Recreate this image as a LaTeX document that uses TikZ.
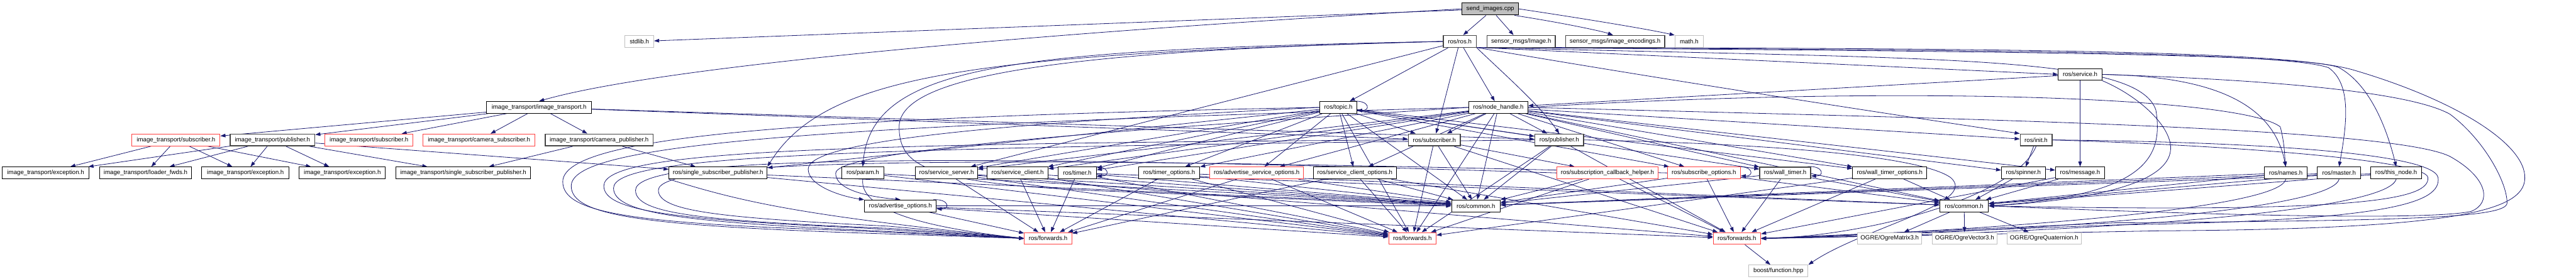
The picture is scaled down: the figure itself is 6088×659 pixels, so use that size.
\documentclass[tikz,border=0pt]{standalone}
\usepackage{fontspec}
\setmainfont{Liberation Sans}
\usetikzlibrary{arrows.meta}
\definecolor{edgec}{RGB}{25,25,112}
\definecolor{redb}{RGB}{255,64,64}
\definecolor{dkb}{RGB}{68,68,68}
\definecolor{lgb}{RGB}{191,191,191}
\definecolor{sendf}{RGB}{191,191,191}
\pgfdeclarelayer{bg}
\pgfsetlayers{bg,main}
\tikzset{
 fnode/.style={rectangle, draw, fill=white, minimum height=28pt, inner sep=0pt, text=black,
   font=\fontsize{14.4}{16}\selectfont, line width=1.4pt},
 bk/.style={fnode, draw=black},
 dk/.style={fnode, draw=dkb, line width=2.2pt},
 rd/.style={fnode, draw=redb, line width=1.6pt},
 lg/.style={fnode, draw=lgb, line width=1.6pt},
 sendbox/.style={fnode, draw=black, fill=sendf, line width=1.8pt},
 edge/.style={draw=edgec, line width=1.2pt, -{Triangle[length=12pt,width=8.5pt]}},
}
\newcommand\selfloop[1]{\draw[edge] ([xshift=-8pt]#1.north east) .. controls ([xshift=30pt,yshift=2pt]#1.north east) and ([xshift=32pt,yshift=-8pt]#1.east) .. ([yshift=-7pt]#1.east);}
\begin{document}
\begin{tikzpicture}[x=1pt,y=1pt]
\useasboundingbox (0,0) rectangle (6088,-659);
% level 0-2
\node[sendbox, minimum width=133pt, minimum height=29pt] (send) at (3522,-21) {send\_images.cpp};
\node[lg, minimum width=68pt] (stdlib) at (1511,-98) {stdlib.h};
\node[dk, minimum width=78pt] (rosh) at (3450,-98) {ros/ros.h};
\node[dk, minimum width=162pt] (img) at (3595,-98) {sensor\_msgs/Image.h};
\node[dk, minimum width=234pt] (enc) at (3817,-98) {sensor\_msgs/image\_encodings.h};
\node[lg, minimum width=67pt] (math) at (3992,-98) {math.h};
\node[bk, minimum width=103pt] (service) at (4916,-176) {ros/service.h};
% level 3
\node[bk, minimum width=249pt] (itit) at (1274,-254) {image\_transport/image\_transport.h};
\node[bk, minimum width=87pt] (topic) at (3163,-254) {ros/topic.h};
\node[bk, minimum width=140pt] (nh) at (3541,-254) {ros/node\_handle.h};
% level 4
\node[rd, minimum width=208pt] (itsub1) at (416,-331) {image\_transport/subscriber.h};
\node[dk, minimum width=200pt] (itpub) at (644,-331) {image\_transport/publisher.h};
\node[rd, minimum width=208pt] (itsub2) at (872,-331) {image\_transport/subscriber.h};
\node[rd, minimum width=264pt] (itcamsub) at (1132,-331) {image\_transport/camera\_subscriber.h};
\node[dk, minimum width=255pt] (itcampub) at (1416,-331) {image\_transport/camera\_publisher.h};
\node[dk, minimum width=123pt] (rossub) at (3390,-331) {ros/subscriber.h};
\node[dk, minimum width=115pt] (rospub) at (3685,-331) {ros/publisher.h};
\node[dk, minimum width=75pt] (init) at (4812,-331) {ros/init.h};
% level 5
\node[bk, minimum width=206pt] (exc1) at (108,-409) {image\_transport/exception.h};
\node[bk, minimum width=218pt] (loader) at (344,-409) {image\_transport/loader\_fwds.h};
\node[bk, minimum width=206pt] (exc2) at (580,-409) {image\_transport/exception.h};
\node[bk, minimum width=204pt] (exc3) at (809,-409) {image\_transport/exception.h};
\node[bk, minimum width=318pt] (itssp) at (1095,-409) {image\_transport/single\_subscriber\_publisher.h};
\node[bk, minimum width=232pt] (rosssp) at (1697,-409) {ros/single\_subscriber\_publisher.h};
\node[bk, minimum width=100pt] (param) at (2039,-409) {ros/param.h};
\node[bk, minimum width=147pt] (srvserver) at (2237,-409) {ros/service\_server.h};
\node[bk, minimum width=144pt] (srvclient) at (2405,-409) {ros/service\_client.h};
\node[bk, minimum width=91pt] (timer) at (2546,-409) {ros/timer.h};
\node[bk, minimum width=145pt] (timeropts) at (2763,-409) {ros/timer\_options.h};
\node[rd, minimum width=222pt] (advsrvopts) at (2970,-409) {ros/advertise\_service\_options.h};
\node[bk, minimum width=197pt] (srvclientopts) at (3202,-409) {ros/service\_client\_options.h};
\node[rd, minimum width=238pt] (subcb) at (3799,-409) {ros/subscription\_callback\_helper.h};
\node[rd, minimum width=172pt] (subopts) at (4027,-409) {ros/subscribe\_options.h};
\node[dk, minimum width=120pt] (walltimer) at (4219,-409) {ros/wall\_timer.h};
\node[bk, minimum width=175pt] (walltimeropts) at (4466,-409) {ros/wall\_timer\_options.h};
\node[bk, minimum width=104pt] (spinner) at (4782,-409) {ros/spinner.h};
\node[bk, minimum width=116pt] (message) at (4916,-409) {ros/message.h};
\node[bk, minimum width=102pt] (names) at (5402,-409) {ros/names.h};
\node[bk, minimum width=103pt] (master) at (5528,-409) {ros/master.h};
\node[bk, minimum width=120pt] (thisnode) at (5663,-409) {ros/this\_node.h};
% level 6
\node[bk, minimum width=170pt] (advopts) at (2128,-487) {ros/advertise\_options.h};
\node[bk, minimum width=115pt] (common1) at (3488,-487) {ros/common.h};
\node[bk, minimum width=115pt] (common2) at (4642,-487) {ros/common.h};
% level 7
\node[rd, minimum width=112pt] (fwd1) at (2477,-564) {ros/forwards.h};
\node[rd, minimum width=112pt] (fwd2) at (3338,-564) {ros/forwards.h};
\node[rd, minimum width=112pt] (fwd3) at (4105,-564) {ros/forwards.h};
\node[lg, minimum width=151pt] (ogm) at (4466,-564) {OGRE/OgreMatrix3.h};
\node[lg, minimum width=153pt] (ogv) at (4643,-564) {OGRE/OgreVector3.h};
\node[lg, minimum width=176pt] (ogq) at (4831,-564) {OGRE/OgreQuaternion.h};
% level 8
\node[lg, minimum width=140pt] (boost) at (4203,-641) {boost/function.hpp};
\coordinate (rosse) at ([xshift=-2pt,yshift=1pt]rosh.south east);

\begin{pgfonlayer}{bg}
\foreach \a/\b in {send/stdlib,
  itit/itsub1, itit/itpub, itit/itsub2, itit/itcamsub, itit/itcampub, itit/rossub, itit/rospub,
  itsub1/exc1, itsub1/loader, itsub1/exc2, itsub1/exc3,
  itpub/exc1, itpub/loader, itpub/exc2, itpub/exc3, itpub/itssp, itpub/rosssp,
  itcampub/itssp, itcampub/rosssp,
  rosh/topic, rosh/nh, rosh/rossub, rosh/srvserver,
  nh/rossub, nh/rospub, nh/common1, nh/subopts, nh/walltimer, nh/walltimeropts, nh/spinner,
  nh/message, nh/timer, nh/timeropts, nh/advsrvopts, nh/srvclientopts, nh/srvserver, nh/srvclient,
  nh/init, nh/common2, nh/fwd2,
  topic/rossub, topic/rospub, topic/timer, topic/timeropts, topic/advsrvopts, topic/srvclientopts,
  topic/srvserver, topic/srvclient, topic/common1, topic/fwd2, topic/subopts, topic/walltimer,
  topic/walltimeropts, topic/rosssp,
  service/message, service/nh,
  init/spinner,
  rosssp/common1, rosssp/fwd2,
  param/common1, param/fwd2,
  srvserver/fwd1, srvserver/common1, srvserver/fwd2, srvserver/fwd3,
  srvclient/fwd1, srvclient/common1, srvclient/fwd2,
  timer/fwd1, timer/common1, timer/fwd2, timer/common2,
  advopts/fwd1, advopts/common1, advopts/fwd2, advopts/fwd3,
  timeropts/common1, timeropts/fwd2, timeropts/fwd1, timeropts/common2,
  advsrvopts/common1, advsrvopts/fwd2, advsrvopts/fwd1,
  srvclientopts/common1, srvclientopts/fwd2, srvclientopts/fwd1, srvclientopts/fwd3,
  rossub/fwd2, rossub/common1, rossub/subcb, rossub/fwd3,
  rospub/common1, rospub/fwd3, rospub/fwd2,
  subcb/fwd3, subcb/common1, subcb/fwd2,
  subopts/fwd3, subopts/common1, subopts/common2,
  walltimer/fwd3, walltimer/common2, walltimer/common1,
  walltimeropts/common2, walltimeropts/fwd3, walltimeropts/fwd2,
  spinner/common2, message/common2, message/fwd3,
  names/common2, names/common1, master/common2, master/common1, thisnode/common2, thisnode/common1,
  common2/ogm, common2/ogv, common2/ogq, fwd3/boost}
  \draw[edge] (\a) -- (\b);
% send children
\draw[edge] ([xshift=-10pt]send.south) -- ([xshift=8pt]rosh.north);
\draw[edge] ([xshift=14pt]send.south) -- ([xshift=-18pt]img.north);
\draw[edge] ([xshift=-10pt]send.south east) .. controls (3700,-55) and (3790,-75) .. ([xshift=-5pt]enc.north);
\draw[edge] (send.east) .. controls (3750,-45) and (3900,-70) .. (math.north west);
% curved edges
\draw[edge] (send.west) .. controls (2400,-80) and (1550,-160) .. (itit.north);
\draw[edge] (rosse) -- (service.west);
\draw[edge] (rosse) .. controls (4000,-200) and (4600,-290) .. (init.north west);
\draw[edge] (rosh.south east) .. controls (3560,-180) and (3640,-250) .. (rospub.north);
\draw[edge] (rosh.west) .. controls (2300,-128) and (1950,-175) .. (rosssp.north east);
\draw[edge] (rosh.west) .. controls (2400,-118) and (2060,-150) .. (param.north);
\draw[edge] (rosh.west) .. controls (2500,-120) and (2125,-180) .. (2125,-300) .. controls (2125,-400) and (2200,-440) .. (2700,-455) -- (common1.west);
\draw[edge] (topic.west) .. controls (2400,-290) and (1910,-330) .. (1910,-400) .. controls (1910,-440) and (1990,-465) .. (advopts.north west);
\draw[edge] (nh.west) .. controls (2500,-316) and (1975,-360) .. (1975,-410) .. controls (1975,-440) and (2020,-462) .. (advopts.north);
% left loops into forwards.h
\draw[edge] (topic.west) .. controls (1800,-280) and (1330,-330) .. (1330,-430) .. controls (1330,-505) and (1500,-528) .. (2000,-545) -- (fwd1.west);
\draw[edge] (nh.west) .. controls (1850,-300) and (1350,-345) .. (1350,-440) .. controls (1350,-510) and (1520,-532) .. (2000,-550) -- (fwd1.west);
\draw[edge] (rossub.west) .. controls (1900,-340) and (1427,-360) .. (1427,-440) .. controls (1427,-500) and (1600,-520) .. (2050,-540) -- (fwd1.west);
\draw[edge] (rospub.west) .. controls (1950,-350) and (1450,-370) .. (1450,-445) .. controls (1450,-505) and (1620,-525) .. (2050,-545) -- (fwd1.west);
\draw[edge] (subcb.west) .. controls (2000,-355) and (1502,-380) .. (1502,-450) .. controls (1502,-505) and (1650,-522) .. (2100,-540) -- (fwd1.west);
\draw[edge] (subopts.west) .. controls (2100,-360) and (1556,-385) .. (1556,-450) .. controls (1556,-500) and (1700,-515) .. (2100,-535) -- (fwd1.west);
\draw[edge] (rosssp.south west) .. controls (1760,-480) and (1900,-510) .. (fwd1.west);
\draw[edge] (param.south) .. controls (2030,-500) and (2200,-540) .. (fwd1.west);
% right side
\draw[edge] (rosse) .. controls (4800,-118) and (5400,-125) .. (5503,-160) .. controls (5560,-200) and (5545,-300) .. (master.north);
\draw[edge] (rosse) .. controls (4800,-122) and (5450,-128) .. (5528,-160) .. controls (5600,-200) and (5640,-300) .. (thisnode.north);
\draw[edge] (rosse) .. controls (4800,-114) and (5400,-120) .. (5560,-165) .. controls (5800,-235) and (5970,-340) .. (5967,-422) .. controls (5965,-500) and (5800,-542) .. (5100,-546) -- (fwd3.east);
\draw[edge] (rosse) .. controls (4600,-140) and (5050,-130) .. (5095,-260) .. controls (5115,-380) and (5060,-462) .. (common2.east);
\draw[edge] (service.east) .. controls (5200,-180) and (5370,-230) .. (names.north);
\draw[edge] (nh.east) .. controls (4500,-200) and (5300,-230) .. (5389,-300) .. controls (5400,-340) and (5400,-380) .. (names.north);
\draw[edge] (service.east) .. controls (5400,-190) and (5700,-220) .. (5790,-270) .. controls (5870,-330) and (5925,-430) .. (5925,-480) .. controls (5925,-515) and (5700,-522) .. (5000,-527) -- (fwd3.east);
\draw[edge] (service.south east) .. controls (5060,-230) and (5130,-300) .. (5130,-350) .. controls (5130,-420) and (5000,-470) .. (common2.east);
\draw[edge] (nh.east) .. controls (4600,-280) and (5650,-300) .. (5790,-370) .. controls (5880,-420) and (5890,-480) .. (5840,-500) .. controls (5750,-520) and (5300,-512) .. (common2.east);
\draw[edge] (init.east) .. controls (5300,-335) and (5750,-360) .. (5762,-420) .. controls (5770,-480) and (5650,-522) .. (5000,-532) -- (fwd3.east);
\draw[edge] (init.east) .. controls (5300,-345) and (5735,-380) .. (5738,-420) .. controls (5742,-470) and (5600,-505) .. (common2.east);
\draw[edge] (names.south) .. controls (5390,-500) and (4600,-550) .. (fwd3.east);
\draw[edge] (master.south) .. controls (5510,-505) and (4700,-552) .. (fwd3.east);
\draw[edge] (thisnode.south) .. controls (5640,-510) and (4800,-555) .. (fwd3.east);
\draw[edge] (init.south) .. controls (4760,-470) and (4400,-560) .. (fwd3.east);
\draw[edge] (rospub.east) .. controls (4200,-340) and (4540,-370) .. (4610,-420) .. controls (4680,-480) and (4400,-540) .. (boost.north east);
% self loops
\selfloop{topic}
\selfloop{advopts}
\selfloop{timer}
\selfloop{subopts}
\selfloop{walltimer}
\end{pgfonlayer}
\end{tikzpicture}
\end{document}
